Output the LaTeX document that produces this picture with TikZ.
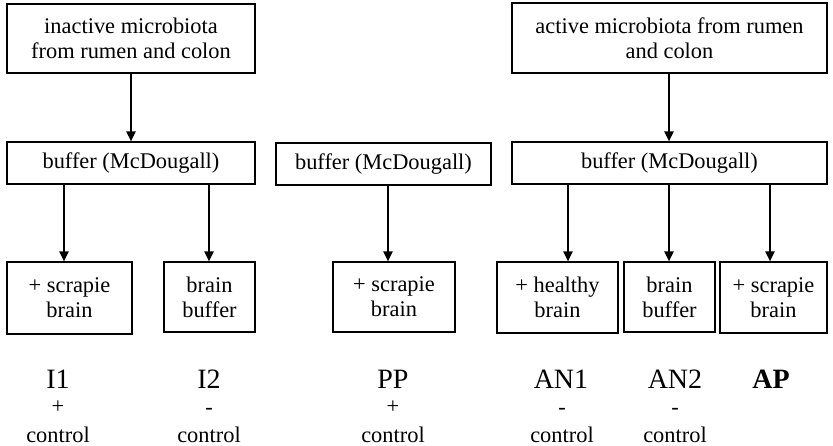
\documentclass[tikz,border=0pt]{standalone}
\usepackage{fontspec}
\setmainfont{Liberation Serif}
\usepackage{tikz}
\usetikzlibrary{calc,positioning,arrows.meta}
\tikzstyle{box}   = [draw=black, line width=1pt, inner sep=0pt, align=center, font=\fontsize{16.8}{18.75}\selectfont]
\tikzstyle{lab}   = [anchor=base, inner sep=0pt, font=\fontsize{21}{24}\selectfont]
\tikzstyle{small} = [anchor=base, inner sep=0pt, font=\fontsize{16.8}{18.75}\selectfont]
\tikzstyle{arrow} = [line width=1.1pt, -{Triangle[width=7pt,length=7.5pt]}]

\begin{document}
\begin{tikzpicture}[x=0.75pt,y=-0.75pt]
        \useasboundingbox (0,0) rectangle (833,446);

        % source boxes
        \node[box, minimum width=248*0.75pt, minimum height=69*0.75pt] (inact) at (131,38.5) {inactive microbiota\\from rumen and colon};
        \node[box, minimum width=315*0.75pt, minimum height=70*0.75pt] (act) at (669.5,38) {active microbiota from rumen\\and colon};

        % buffers
        \node[box, minimum width=248*0.75pt, minimum height=42*0.75pt] (buf1) at (131,163) {buffer (McDougall)};
        \node[box, minimum width=215*0.75pt, minimum height=42*0.75pt] (buf2) at (383.5,164) {buffer (McDougall)};
        \node[box, minimum width=315*0.75pt, minimum height=42*0.75pt] (buf3) at (669.5,163) {buffer (McDougall)};

        % incubations
        \node[box, minimum width=125*0.75pt, minimum height=72*0.75pt] (i1) at (69.5,298) {+ scrapie\\brain};
        \node[box, minimum width=91*0.75pt, minimum height=70*0.75pt] (i2) at (209.5,297) {brain\\buffer};
        \node[box, minimum width=122*0.75pt, minimum height=70*0.75pt] (pp) at (394,297) {+ scrapie\\brain};
        \node[box, minimum width=121*0.75pt, minimum height=71*0.75pt] (an1) at (557.5,297.5) {+ healthy\\brain};
        \node[box, minimum width=91*0.75pt, minimum height=70*0.75pt] (an2) at (669.5,297) {brain\\buffer};
        \node[box, minimum width=107*0.75pt, minimum height=71*0.75pt] (ap) at (773.5,297.5) {+ scrapie\\brain};

        \draw[arrow] (inact.south) -- (buf1.north);
        \draw[arrow] (act.south -| 669,0) -- (buf3.north -| 669,0);
        \draw[arrow] (buf1.south -| 64,0) -- (i1.north -| 64,0);
        \draw[arrow] (buf1.south -| 209,0) -- (i2.north -| 209,0);
        \draw[arrow] (buf2.south -| 388,0) -- (pp.north -| 388,0);
        \draw[arrow] (buf3.south -| 568,0) -- (an1.north -| 568,0);
        \draw[arrow] (buf3.south -| 669,0) -- (an2.north -| 669,0);
        \draw[arrow] (buf3.south -| 770,0) -- (ap.north -| 770,0);

        % labels
        \node[lab] (li1) at (58,388) {I1};
        \node[small] (si1) at (58,413) {+};
        \node[small] (ci1) at (58,442) {control};

        \node[lab] (li2) at (209,388) {I2};
        \node[small] (si2) at (209,414) {-};
        \node[small] (ci2) at (209,442) {control};

        \node[lab] (lpp) at (393,388) {PP};
        \node[small] (spp) at (393,413) {+};
        \node[small] (cpp) at (393,442) {control};

        \node[lab] (lan1) at (561,388) {AN1};
        \node[small] (san1) at (562,414) {-};
        \node[small] (can1) at (562,442) {control};

        \node[lab] (lan2) at (675,388) {AN2};
        \node[small] (san2) at (675,414) {-};
        \node[small] (can2) at (675,442) {control};

        \node[lab] (lap) at (771,388) {\textbf{AP}};
\end{tikzpicture}
\end{document}
